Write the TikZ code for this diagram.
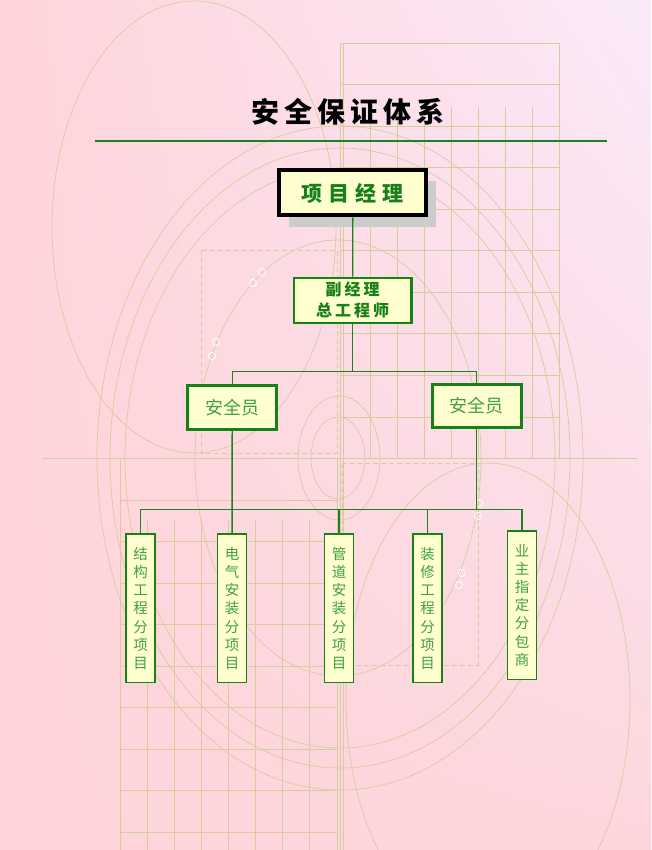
\documentclass[tikz,border=0pt]{standalone}
\usepackage{fontspec}
\newfontfamily\cjk{Noto Sans CJK SC}
\usetikzlibrary{shadows,shadings}
\definecolor{bgA}{RGB}{255,212,218}
\definecolor{bgB}{RGB}{250,234,250}
\definecolor{bgC}{RGB}{254,212,216}
\definecolor{bgD}{RGB}{253,214,220}
\definecolor{deco}{RGB}{214,204,160}
\definecolor{boxfill}{RGB}{255,255,208}
\definecolor{boxgreen}{RGB}{20,130,20}
\definecolor{linegreen}{RGB}{30,128,30}
\definecolor{txtgreen}{RGB}{64,160,64}
\definecolor{txtdark}{RGB}{24,128,24}
\definecolor{shadowgray}{RGB}{204,204,204}
\tikzset{
  decoline/.style={draw=deco, line width=0.7pt},
  decodash/.style={draw=deco, line width=0.9pt, dash pattern=on 5pt off 3pt},
  basebox/.style={draw=boxgreen, fill=boxfill, inner sep=0pt},
  topbox/.style={basebox, draw=black, line width=4pt, minimum width=147pt, minimum height=45pt,
     font=\cjk\bfseries\fontsize{21}{23}\selectfont, text=txtdark,
     drop shadow={shadow xshift=10pt, shadow yshift=-11pt, fill=shadowgray, opacity=1}},
  vpbox/.style={basebox, line width=2.5pt, minimum width=117.5pt, minimum height=45pt, align=center,
     font=\cjk\bfseries\fontsize{16}{21}\selectfont, text=txtdark},
  safebox/.style={basebox, line width=3pt, minimum width=89pt, minimum height=43.7pt,
     font=\cjk\fontsize{18}{20}\selectfont, text=txtgreen},
  unitbox/.style={basebox, line width=1.5pt, minimum width=29pt, minimum height=148.5pt, align=center,
     font=\cjk\fontsize{14.5}{18.2}\selectfont, text=txtgreen},
  conn/.style={draw=linegreen, line width=1.4pt},
}
\begin{document}
\begin{tikzpicture}[x=1pt,y=-1pt]
\useasboundingbox (0,0) rectangle (651,850);
% background
\shade[upper left=bgA, upper right=bgB, lower left=bgC, lower right=bgD] (0,0) rectangle (651,850);
% decorative pattern
\begin{scope}[decoline]
  % right upper grid
  \foreach \yy in {43,84,126,167,209,250,292,333,375,417} \draw (340,\yy) -- (559,\yy);
  \foreach \xx in {370,397,424,451,478,505,532} \draw (\xx,107) -- (\xx,458);
  \draw (559,43) -- (559,458);
  \draw (340,43) -- (340,850);
  \draw (343,43) -- (343,850);
  % long horizontal
  \draw (42,458) -- (637,458);
  % lower left grid
  \foreach \yy in {500,541,583,624,666,707,749,790,832} \draw (120,\yy) -- (337,\yy);
  \foreach \xx in {147,174,201,228,255,282,309} \draw (\xx,520) -- (\xx,850);
  \draw (120,458) -- (120,850);
  \draw (337,458) -- (337,850);
  % ellipses
  \draw (194,227) ellipse [x radius=142, y radius=226];
  \draw (340,458) ellipse [x radius=243, y radius=332];
  \draw (340,458) ellipse [x radius=230, y radius=310];
  \draw (340,458) ellipse [x radius=215, y radius=290];
  \draw (338,458) ellipse [x radius=143, y radius=218];
  \draw (339,458) ellipse [x radius=41, y radius=62];
  \draw (338,458) ellipse [x radius=27, y radius=41];
  \draw (488,700) ellipse [x radius=142, y radius=237];
\end{scope}
\draw[decodash] (201,250) rectangle (337,453);
\draw[decodash] (342,463) rectangle (478,665);
\foreach \cx/\cy in {262/272,253/283,216/342,212/356,479/503,478/516,462/573,459/585}
  \draw[white, line width=0.8pt] (\cx,\cy) circle [radius=3.6];
% title
\node[font=\cjk\bfseries\fontsize{28}{30}\selectfont] (title) at (348,112) {安\kern5pt 全\kern5pt 保\kern5pt 证\kern5pt 体\kern5pt 系};
\coordinate (tl) at (95,141);
\coordinate (tr) at (607,141);
\draw[draw=linegreen, line width=1.1pt] (tl) -- (tr);
% nodes
\node[topbox] (pm) at (352.8,193) {项\kern6pt 目\kern6pt 经\kern6pt 理};
\node[vpbox] (vp) at (352.7,300.3) {副\kern3pt 经\kern3pt 理\\总\kern3pt 工\kern3pt 程\kern3pt 师};
\node[safebox] (sl) at (232.2,407.3) {安全员};
\node[safebox] (sr) at (476.7,406) {安全员};
\node[unitbox] (u1) at (140.7,608.3) {结\\构\\工\\程\\分\\项\\目};
\node[unitbox] (u2) at (232.1,608.3) {电\\气\\安\\装\\分\\项\\目};
\node[unitbox] (u3) at (339,608.3) {管\\道\\安\\装\\分\\项\\目};
\node[unitbox] (u4) at (427.7,608.3) {装\\修\\工\\程\\分\\项\\目};
\node[unitbox] (u5) at (522,605.3) {业\\主\\指\\定\\分\\包\\商};
% connectors
\coordinate (b1) at (352.7,371.7);
\coordinate (b2) at (0,509.3);
\draw[conn] (pm.south) -- (vp.north);
\draw[conn] (vp.south) -- (b1);
\draw[conn] (sl.north) |- (b1) -| (sr.north);
\draw[conn] (sl.south) -- (u2.north);
\draw[conn] (sr.south) -- (sr.south |- b2);
\draw[conn] (u1.north) -- (u1.north |- b2) -- (u5.north |- b2) -- (u5.north);
\draw[conn] (u3.north) -- (u3.north |- b2);
\draw[conn] (u4.north) -- (u4.north |- b2);
\end{tikzpicture}
\end{document}
